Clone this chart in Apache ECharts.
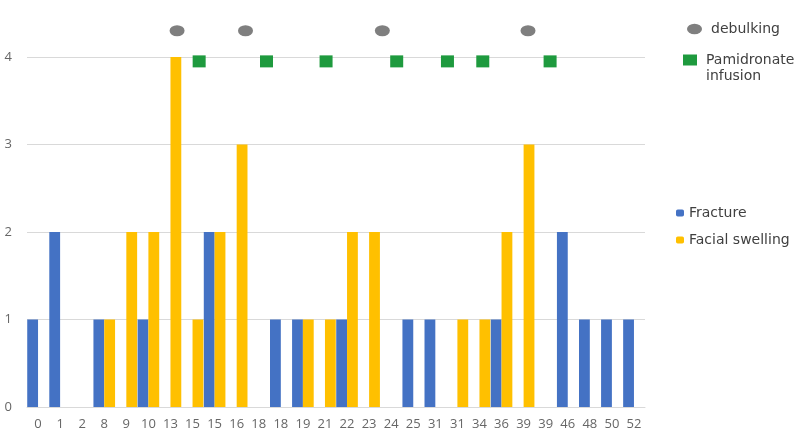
<!DOCTYPE html>
<html>
<head>
<meta charset="utf-8">
<script src="https://cdn.jsdelivr.net/npm/echarts@6/dist/echarts.min.js"></script>
<style>
  html, body { margin: 0; padding: 0; background: #fff; }
  #chart { width: 800px; height: 443px; }
</style>
</head>
<body>
<div id="chart"></div>
<script>
// x categories (as printed, duplicates included)
var categories = ['0', '1', '2', '8', '9', '10', '13', '15', '15', '16', '18', '18', '19', '21',
                  '22', '23', '24', '25', '31', '31', '34', '36', '39', '39', '46', '48', '50', '52'];
var fracture = [1, 2, 0, 1, 0, 1, 0, 0, 2, 0, 0, 1, 1, 0, 1, 0, 0, 1, 1, 0, 0, 1, 0, 0, 2, 1, 1, 1];
var swelling = [0, 0, 0, 1, 2, 2, 4, 1, 2, 3, 0, 0, 1, 1, 2, 2, 0, 0, 0, 1, 1, 2, 3, 0, 0, 0, 0, 0];

// event markers, x in category-slot units (0 = centre of first category)
var debulkingX = [6.3, 9.4, 15.6, 22.2];
var debulkingY = [4.3, 4.3, 4.3, 4.3];
var pamidronateX = [7.3, 10.35, 13.05, 16.25, 18.55, 20.15, 23.2];
var pamidronateY = [3.95, 3.95, 3.95, 3.95, 3.95, 3.95, 3.95];

var yTicks = [0, 1, 2, 3, 4];

var ellipse = 'path://M0,5 A7,5 0 1,1 14,5 A7,5 0 1,1 0,5 Z';
var font = '"Open Sans", "DejaVu Sans", sans-serif';
var legendFont = '"DejaVu Sans", sans-serif';

function pairs(xs, ys) {
    return xs.map(function (x, i) { return [x, ys[i]]; });
}

var chart = echarts.init(document.getElementById('chart'));
chart.setOption({
    animation: false,
    textStyle: { fontFamily: font },
    grid: { left: 27, right: 155, top: 57, bottom: 36 },
    legend: [
        {
            data: ['debulking'],
            left: 682,
            top: 16,
            itemWidth: 15,
            itemHeight: 11,
            textStyle: { color: '#404040', fontSize: 14, fontFamily: legendFont, lineHeight: 16, padding: [0, 0, 0, 4] }
        },
        {
            // blank first line keeps the icon level with "Pamidronate"
            data: ['Pamidronate infusion'],
            left: 678,
            top: 31,
            itemWidth: 14,
            itemHeight: 11,
            textStyle: { color: '#404040', fontSize: 14, fontFamily: legendFont, lineHeight: 16, padding: [0, 0, 0, 4] },
            formatter: function (name) { return '\n' + name.replace(' ', '\n'); }
        },
        {
            data: ['Fracture', 'Facial swelling'],
            orient: 'vertical',
            left: 671,
            top: 200,
            itemGap: 11,
            itemWidth: 8,
            itemHeight: 7,
            textStyle: { color: '#404040', fontSize: 14, fontFamily: legendFont, lineHeight: 16 }
        }
    ],
    xAxis: [
        {
            type: 'category',
            data: categories,
            axisLine: { lineStyle: { color: '#d9d9d9' } },
            axisTick: { show: false },
            axisLabel: { color: '#666666', fontSize: 13, margin: 11, interval: 0 }
        },
        {
            type: 'value',
            min: -0.5,
            max: categories.length - 0.5,
            show: false
        }
    ],
    yAxis: {
        type: 'value',
        min: yTicks[0],
        max: yTicks[yTicks.length - 1],
        interval: 1,
        axisLine: { show: false },
        axisTick: { show: false },
        axisLabel: { color: '#666666', fontSize: 13, margin: 15 },
        splitLine: { lineStyle: { color: '#d9d9d9' } }
    },
    series: [
        {
            name: 'Fracture',
            type: 'bar',
            data: fracture,
            barGap: '0%',
            barCategoryGap: '2%',
            itemStyle: { color: '#4472c4' }
        },
        {
            name: 'Facial swelling',
            type: 'bar',
            data: swelling,
            itemStyle: { color: '#ffc000' }
        },
        {
            name: 'debulking',
            type: 'scatter',
            xAxisIndex: 1,
            data: pairs(debulkingX, debulkingY),
            symbol: ellipse,
            symbolSize: [15, 11],
            clip: false,
            itemStyle: { color: '#7f7f7f', opacity: 1 }
        },
        {
            name: 'Pamidronate infusion',
            type: 'scatter',
            xAxisIndex: 1,
            data: pairs(pamidronateX, pamidronateY),
            symbol: 'rect',
            symbolSize: [13, 12],
            clip: false,
            itemStyle: { color: '#1e9a3e', opacity: 1 }
        }
    ]
});
</script>
</body>
</html>
